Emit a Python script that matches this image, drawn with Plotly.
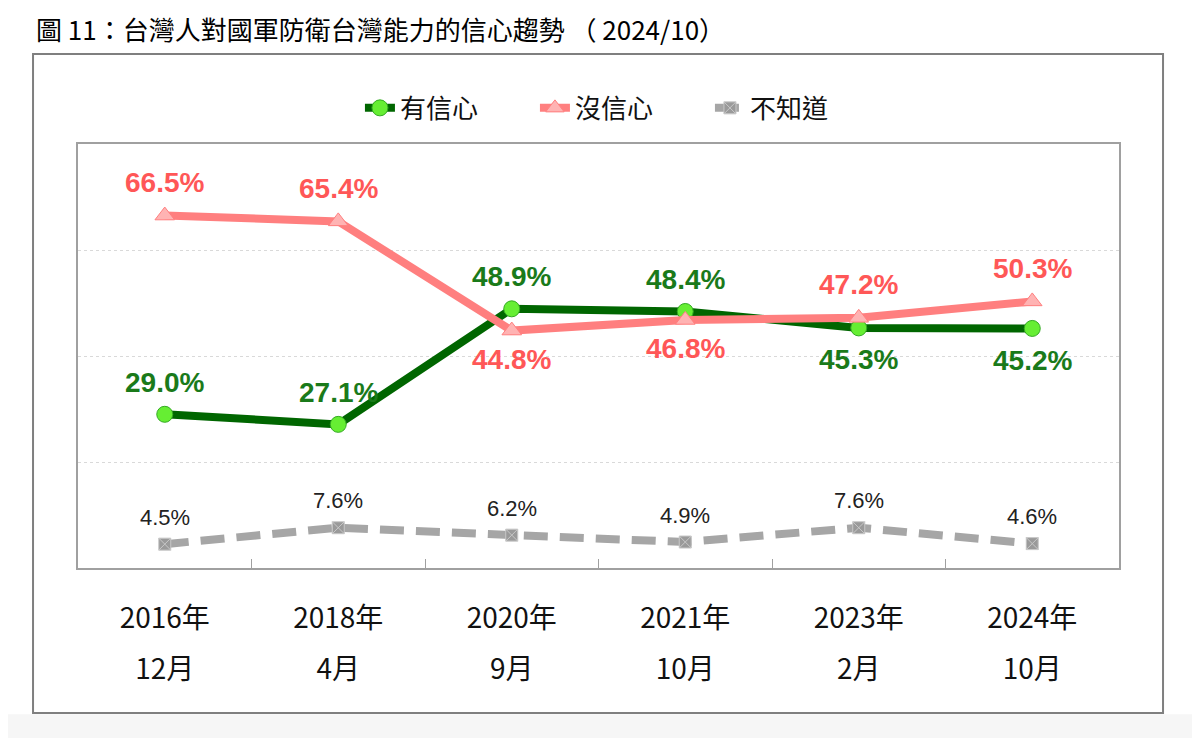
import plotly.graph_objects as go

categories = ["2016年12月", "2018年4月", "2020年9月", "2021年10月", "2023年2月", "2024年10月"]
year_labels = ["2016年", "2018年", "2020年", "2021年", "2023年", "2024年"]
month_labels = ["12月", "4月", "9月", "10月", "2月", "10月"]

confident = [29.0, 27.1, 48.9, 48.4, 45.3, 45.2]
not_confident = [66.5, 65.4, 44.8, 46.8, 47.2, 50.3]
dont_know = [4.5, 7.6, 6.2, 4.9, 7.6, 4.6]

confident_pos = ["above", "above", "above", "above", "below", "below"]
not_conf_pos = ["above", "above", "below", "below", "above", "above"]

GREEN = "#006600"
GREEN_TXT = "#1a7a1a"
PINK = "#ff7f7f"
PINK_TXT = "#ff5757"
GRAY = "#a6a6a6"

fig = go.Figure()

fig.add_trace(go.Scatter(
    x=categories, y=confident, name="有信心", mode="lines+markers",
    line=dict(color=GREEN, width=8),
    marker=dict(symbol="circle", size=16, color="#66ee33", line=dict(color="#33aa22", width=1)),
))
fig.add_trace(go.Scatter(
    x=categories, y=not_confident, name="沒信心", mode="lines+markers",
    line=dict(color=PINK, width=8),
    marker=dict(symbol="triangle-up", size=17, color="#ffb3b3", line=dict(color="#ff7f7f", width=1)),
))
fig.add_trace(go.Scatter(
    x=categories, y=dont_know, name="不知道", mode="lines+markers",
    line=dict(color=GRAY, width=8, dash="24px,12px"),
    marker=dict(symbol="square-x", size=12, color="#9a9a9a", line=dict(color="#c8c8c8", width=1)),
))

annotations = []
for c, v, p in zip(categories, confident, confident_pos):
    annotations.append(dict(x=c, y=v, xref="x", yref="y", text=f"{v:.1f}%", showarrow=False,
                            yshift=32 if p == "above" else -32,
                            font=dict(family="Liberation Sans, Arial", size=28, color=GREEN_TXT, weight="bold")))
for c, v, p in zip(categories, not_confident, not_conf_pos):
    annotations.append(dict(x=c, y=v, xref="x", yref="y", text=f"{v:.1f}%", showarrow=False,
                            yshift=33 if p == "above" else -29,
                            font=dict(family="Liberation Sans, Arial", size=28, color=PINK_TXT, weight="bold")))
for c, v in zip(categories, dont_know):
    annotations.append(dict(x=c, y=v, xref="x", yref="y", text=f"{v:.1f}%", showarrow=False,
                            yshift=27,
                            font=dict(family="Liberation Sans, Arial", size=22, color="#222222")))

annotations.append(dict(
    x=-0.0413, y=1.318, xref="paper", yref="paper", xanchor="left", yanchor="top",
    text="圖 11：台灣人對國軍防衛台灣能力的信心趨勢 （ 2024/10）", showarrow=False, borderpad=0,
    font=dict(family="Noto Sans CJK TC", size=26, color="#000000"),
))

shapes = [
    dict(type="rect", xref="paper", yref="paper", x0=-0.0432, x1=1.0423, y0=-0.342, y1=1.2123,
         line=dict(color="#7f7f7f", width=2), fillcolor="rgba(0,0,0,0)", layer="below"),
    dict(type="rect", xref="paper", yref="paper", x0=-0.2, x1=1.2, y0=-0.5, y1=-0.345,
         line=dict(width=0), fillcolor="#f6f6f6", layer="below"),
]

fig.update_layout(
    width=1200, height=738,
    margin=dict(l=70, r=89, t=136, b=178),
    paper_bgcolor="white", plot_bgcolor="white",
    showlegend=True,
    legend=dict(orientation="h", x=0.523, xanchor="center", y=1.085, yanchor="middle",
                font=dict(family="Noto Sans CJK TC", size=26, color="#111111"),
                entrywidth=130, entrywidthmode="pixels", tracegroupgap=0,
                bgcolor="rgba(0,0,0,0)"),
    annotations=annotations,
    shapes=shapes,
    xaxis=dict(
        type="category", categoryorder="array", categoryarray=categories,
        tickmode="array", tickvals=categories, ticktext=year_labels,
        tickson="boundaries", ticks="inside", ticklen=9, tickcolor="#a0a0a0",
        showgrid=False, showline=True, linecolor="#a0a0a0", linewidth=2, mirror=True,
        ticklabelstandoff=24,
        tickfont=dict(family="Noto Sans CJK TC", size=28, color="#111111"),
        range=[-0.5, 5.5],
    ),
    xaxis2=dict(
        overlaying="x", side="bottom", range=[-0.5, 5.5],
        tickmode="array", tickvals=list(range(len(month_labels))), ticktext=month_labels,
        ticks="", showgrid=False, showline=False, zeroline=False,
        ticklabelstandoff=82,
        tickfont=dict(family="Noto Sans CJK TC", size=28, color="#111111"),
    ),
    yaxis=dict(
        range=[0, 80], tickvals=[0, 20, 40, 60, 80], showticklabels=False,
        showgrid=True, gridcolor="#d9d9d9", griddash="dot", gridwidth=1,
        zeroline=False, showline=True, linecolor="#a0a0a0", linewidth=2, mirror=True,
    ),
)

fig.add_trace(go.Scatter(x=[None], y=[None], xaxis="x2", showlegend=False, hoverinfo="skip"))

fig.write_html("out.html")
